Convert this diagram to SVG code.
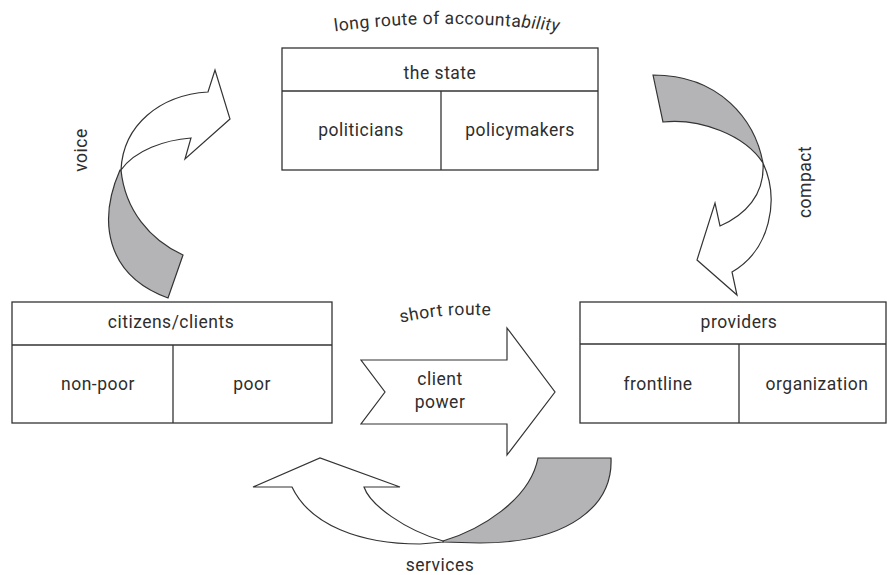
<svg xmlns="http://www.w3.org/2000/svg" width="887" height="575" viewBox="0 0 887 575">
<style>
  .box { fill: #ffffff; stroke: #333333; stroke-width: 1.3; }
  .ln { fill: none; stroke: #333333; stroke-width: 1.3; }
  .t { font-family: Roboto, "Liberation Sans", sans-serif; font-size: 17.5px; fill: #2e2e2e; text-anchor: middle; letter-spacing: 0.5px; }
  .w { fill: #ffffff; stroke: #333333; stroke-width: 1.2; stroke-linejoin: miter; }
  .g { fill: #b4b4b7; stroke: #333333; stroke-width: 1.2; stroke-linejoin: miter; }
</style>
<defs>
  <path id="arcLong" d="M 318 34 Q 446 14 576 34"/>
  <path id="arcShort" d="M 388 326 Q 446 310 504 317"/>
</defs>
<rect width="887" height="575" fill="#ffffff"/>

<g id="state">
  <rect class="box" x="282" y="48" width="316" height="122"/>
  <line class="ln" x1="282" y1="91" x2="598" y2="91"/>
  <line class="ln" x1="441" y1="91" x2="441" y2="170"/>
  <text class="t" x="440" y="79">the state</text>
  <text class="t" x="361" y="136">politicians</text>
  <text class="t" x="520" y="136">policymakers</text>
</g>

<g id="citizens">
  <rect class="box" x="12" y="302" width="320" height="121"/>
  <line class="ln" x1="12" y1="345" x2="332" y2="345"/>
  <line class="ln" x1="173" y1="345" x2="173" y2="423"/>
  <text class="t" x="171" y="328">citizens/clients</text>
  <text class="t" x="98" y="390">non-poor</text>
  <text class="t" x="252" y="390">poor</text>
</g>

<g id="providers">
  <rect class="box" x="580" y="302" width="306" height="121"/>
  <line class="ln" x1="580" y1="344" x2="886" y2="344"/>
  <line class="ln" x1="739" y1="344" x2="739" y2="423"/>
  <text class="t" x="739" y="328">providers</text>
  <text class="t" x="658" y="390">frontline</text>
  <text class="t" x="817" y="390">organization</text>
</g>

<g id="connectors">
  <!-- voice -->
  <path class="g" d="M 120 170 C 98 220 105 275 168 298 L 183 255 C 150 240 125 210 121 170 Z"/>
  <path class="w" d="M 121 170 C 123 125 160 95 208 92 L 215 70 L 230 119 L 185 159 L 191 138 C 165 140 135 150 121 170 Z"/>
  <!-- compact -->
  <path class="g" d="M 653 75 L 663 122 C 700 118 745 135 763 163 C 755 120 720 75 653 75 Z"/>
  <path class="w" d="M 763 163 C 780 200 770 250 732 272 L 737 295 L 697 260 L 715 203 L 720 226 C 745 215 765 195 763 163 Z"/>
  <!-- services -->
  <path class="g" d="M 443 541 C 480 530 530 500 538 458 L 611 458 C 613 505 570 543 480 543 L 443 542 Z"/>
  <path class="w" d="M 443 541 C 405 530 370 505 364 487 L 400 487 L 320 458 L 253 487 L 292 487 C 310 525 360 544 420 544 L 443 542 Z"/>
  <!-- client power -->
  <path class="w" d="M 361 360 L 507 360 L 507 328 L 555 392 L 507 455 L 507 424 L 361 424 L 385 392 Z"/>
</g>

<g id="labels">
  <text class="t" letter-spacing="0.9"><textPath href="#arcLong" startOffset="50%">long route of accounta<tspan font-style="italic">bility</tspan></textPath></text>
  <text class="t"><textPath href="#arcShort" startOffset="50%">short route</textPath></text>
  <text class="t" x="440" y="385">client</text>
  <text class="t" x="440" y="408">power</text>
  <text class="t" transform="translate(87 150) rotate(-90)">voice</text>
  <text class="t" transform="translate(811 182) rotate(-90)">compact</text>
  <text class="t" x="440" y="571">services</text>
</g>
</svg>
